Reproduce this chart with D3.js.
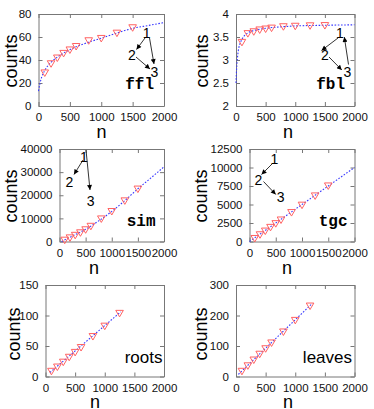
<!DOCTYPE html>
<html>
<head>
<meta charset="utf-8">
<script src="https://cdn.jsdelivr.net/npm/d3@7"></script>
<style>
html,body{margin:0;padding:0;background:#fff;}
svg{display:block;}
text{font-family:"Liberation Sans",Arial,Helvetica,sans-serif;fill:#000;}
</style>
</head>
<body>
<svg id="chart" width="374" height="409"></svg>
<script>
// ---------- data ----------
const xTicks = [0, 500, 1000, 1500, 2000];
const nValues = [100, 200, 300, 400, 500, 600, 800, 1000, 1250, 1500];
const nValuesShort = [100, 200, 300, 400, 500, 600, 800, 1000, 1250];

const fflCounts = [29, 37, 42, 46, 49, 52, 57, 59, 63.6, 68.3];
const fflFitN = [0, 25, 50, 100, 200, 300, 400, 500, 600, 800, 1000, 1250, 1500, 1750, 2000];
const fflFitCounts = [13, 20, 25, 31, 38, 42.5, 46, 49, 51.5, 55.5, 59, 63.5, 67.5, 70, 72.5];
const fflYTicks = [0, 20, 40, 60, 80];

const fblCounts = [3.39, 3.58, 3.62, 3.66, 3.68, 3.70, 3.73, 3.74, 3.75, 3.755];
const fblFitN = [0, 10, 25, 50, 75, 100, 150, 200, 300, 400, 500, 600, 800, 1000, 1500, 2000];
const fblFitCounts = [2.5, 2.8, 3.05, 3.28, 3.38, 3.45, 3.54, 3.59, 3.64, 3.67, 3.69, 3.705, 3.725, 3.74, 3.755, 3.765];
const fblYTicks = [2, 2.5, 3, 3.5, 4];

const simCounts = [700, 1700, 2800, 3900, 5200, 6700, 9900, 13100, 17700, 22800];
const simFitN = [40, 250, 500, 750, 1000, 1250, 1500, 1750, 2000];
const simFitCounts = [0, 2400, 5300, 8900, 13000, 17700, 22800, 27500, 32300];
const simYTicks = [0, 10000, 20000, 30000, 40000];

const tgcCounts = [450, 950, 1450, 1950, 2450, 2950, 3950, 4950, 6200, 7550];
const tgcFitN = [0, 2000];
const tgcFitCounts = [0, 10000];
const tgcYTicks = [0, 2500, 5000, 7500, 10000, 12500];

const rootsCounts = [9, 16, 24, 32, 40, 48, 66, 83, 104];
const rootsFitN = [75, 1270];
const rootsFitCounts = [6.5, 106];
const rootsYTicks = [0, 50, 100, 150];

const leavesCounts = [18, 36, 55, 74, 92, 111, 147, 185, 232];
const leavesFitN = [40, 1290];
const leavesFitCounts = [7, 240];
const leavesYTicks = [0, 100, 200, 300];

// ---------- layout ----------
const panels = [
  {n: nValues, c: fflCounts, fn: fflFitN, fc: fflFitCounts, yt: fflYTicks, ydom: [0, 80],
   box: [38.5, 164, 14, 106], label: "ffl", mono: true, lx: 154, ly: 89,
   nx: 101.5, ny: 138, cx: 17, cy: 61, motif: "ffl"},
  {n: nValues, c: fblCounts, fn: fblFitN, fc: fblFitCounts, yt: fblYTicks, ydom: [2, 4],
   box: [236, 354.5, 14, 106], label: "fbl", mono: true, lx: 345, ly: 89,
   nx: 288, ny: 138, cx: 208, cy: 61, motif: "fbl"},
  {n: nValues, c: simCounts, fn: simFitN, fc: simFitCounts, yt: simYTicks, ydom: [0, 40000],
   box: [59.5, 164, 149, 241.5], label: "sim", mono: true, lx: 155.5, ly: 225.5,
   nx: 94, ny: 274, cx: 17, cy: 196, motif: "sim"},
  {n: nValues, c: tgcCounts, fn: tgcFitN, fc: tgcFitCounts, yt: tgcYTicks, ydom: [0, 12500],
   box: [249.5, 354.5, 149, 241.5], label: "tgc", mono: true, lx: 347.5, ly: 225.5,
   nx: 287, ny: 274, cx: 207, cy: 196, motif: "tgc"},
  {n: nValuesShort, c: rootsCounts, fn: rootsFitN, fc: rootsFitCounts, yt: rootsYTicks, ydom: [0, 150],
   box: [45.5, 164, 285, 376.5], label: "roots", mono: false, lx: 162.5, ly: 363,
   nx: 95, ny: 407.5, cx: 20, cy: 334, motif: null},
  {n: nValuesShort, c: leavesCounts, fn: leavesFitN, fc: leavesFitCounts, yt: leavesYTicks, ydom: [0, 300],
   box: [236, 354.5, 285, 376.5], label: "leaves", mono: false, lx: 352, ly: 363,
   nx: 288, ny: 407.5, cx: 207, cy: 334, motif: null}
];

// motif annotations: node labels and arrows
const motifs = {
  ffl: {nodes: [["1", 146.7, 38.3], ["2", 132, 60], ["3", 154.5, 76.5]],
        arrows: [[145, 38, 136.5, 49.5], [149.5, 38, 154, 64]], extra: [[136, 57, 150, 69]]},
  fbl: {nodes: [["1", 340, 38.3], ["2", 325, 60], ["3", 347.3, 76.5]],
        arrows: [[338, 38, 321.5, 50.5], [348.5, 64.5, 344.3, 37], [329, 57, 341.8, 70]]},
  sim: {nodes: [["1", 84, 161.7], ["2", 69.3, 186.7], ["3", 90.7, 205.7]],
        arrows: [[83, 160, 74, 174.5], [86, 150, 90, 190]]},
  tgc: {nodes: [["1", 274.3, 164.3], ["2", 258.3, 185], ["3", 280.7, 202.3]],
        arrows: [[272.5, 163.5, 261.5, 174.5], [263.5, 181.5, 275.8, 194.5]]}
};

const svg = d3.select("#chart");
const defs = svg.append("defs");
defs.append("marker").attr("id", "arr")
  .attr("viewBox", "0 0 10 10").attr("refX", 10).attr("refY", 5)
  .attr("markerWidth", 6).attr("markerHeight", 5).attr("markerUnits", "userSpaceOnUse")
  .attr("orient", "auto")
  .append("path").attr("d", "M0,0 L10,5 L0,10 Z").attr("fill", "#000");

const frameColor = "#777";
const tri = "M-3.8,-2.7 L3.8,-2.7 L0,3.8 Z";

panels.forEach(p => {
  const [x0, x1, y0, y1] = p.box;
  const x = d3.scaleLinear().domain([0, 2000]).range([x0, x1]);
  const y = d3.scaleLinear().domain(p.ydom).range([y1, y0]);
  const g = svg.append("g");

  const tickFmt = d => String(d);
  const bottom = g.append("g").attr("transform", `translate(0,${y1})`)
    .call(d3.axisBottom(x).tickValues(xTicks).tickFormat(tickFmt).tickSizeInner(-4).tickSizeOuter(0).tickPadding(7));
  const top = g.append("g").attr("transform", `translate(0,${y0})`)
    .call(d3.axisTop(x).tickValues(xTicks).tickFormat("").tickSizeInner(-4).tickSizeOuter(0));
  const left = g.append("g").attr("transform", `translate(${x0},0)`)
    .call(d3.axisLeft(y).tickValues(p.yt).tickFormat(tickFmt).tickSizeInner(-4).tickSizeOuter(0).tickPadding(7));
  const right = g.append("g").attr("transform", `translate(${x1},0)`)
    .call(d3.axisRight(y).tickValues(p.yt).tickFormat("").tickSizeInner(-4).tickSizeOuter(0));
  [bottom, top, left, right].forEach(a => {
    a.select(".domain").attr("stroke", frameColor);
    a.selectAll(".tick line").attr("stroke", frameColor);
    a.selectAll(".tick text").attr("font-size", "11.5px").style("fill", "#111");
  });
  bottom.selectAll(".tick text").attr("dy", "0.71em");

  // fit line
  const fit = p.fn.map((d, i) => [d, p.fc[i]]);
  g.append("path").datum(fit)
    .attr("d", d3.line().x(d => x(d[0])).y(d => y(d[1])).curve(d3.curveMonotoneX))
    .attr("fill", "none").attr("stroke", "#3a3aff").attr("stroke-width", 1.1)
    .attr("stroke-dasharray", "1.6,1.6");

  // markers
  g.selectAll("path.pt").data(p.n.map((d, i) => [d, p.c[i]])).enter()
    .append("path").attr("class", "pt").attr("d", tri)
    .attr("transform", d => `translate(${x(d[0])},${y(d[1])})`)
    .attr("fill", "none").attr("stroke", "#ff6262").attr("stroke-width", 1);

  // panel label
  g.append("text").attr("x", p.lx).attr("y", p.ly).attr("text-anchor", "end")
    .attr("font-size", p.mono ? "16px" : "17px")
    .attr("font-weight", p.mono ? "bold" : "normal")
    .style("font-family", p.mono ? '"Liberation Mono","Courier New",monospace' : '"Liberation Sans",Arial,sans-serif')
    .text(p.label);

  // axis titles
  g.append("text").attr("x", p.nx).attr("y", p.ny).attr("text-anchor", "middle")
    .attr("font-size", "18px").text("n");
  g.append("text").attr("transform", `translate(${p.cx},${p.cy}) rotate(-90)`)
    .attr("text-anchor", "middle").attr("font-size", "18px").text("counts");

  // motif
  if (p.motif) {
    const m = motifs[p.motif];
    m.arrows.concat(m.extra || []).forEach(a => {
      g.append("line").attr("x1", a[0]).attr("y1", a[1]).attr("x2", a[2]).attr("y2", a[3])
        .attr("stroke", "#000").attr("stroke-width", 0.8).attr("marker-end", "url(#arr)");
    });
    m.nodes.forEach(nd => {
      g.append("text").attr("x", nd[1]).attr("y", nd[2]).attr("text-anchor", "middle")
        .attr("font-size", "14px").text(nd[0]);
    });
  }
});
</script>
</body>
</html>
